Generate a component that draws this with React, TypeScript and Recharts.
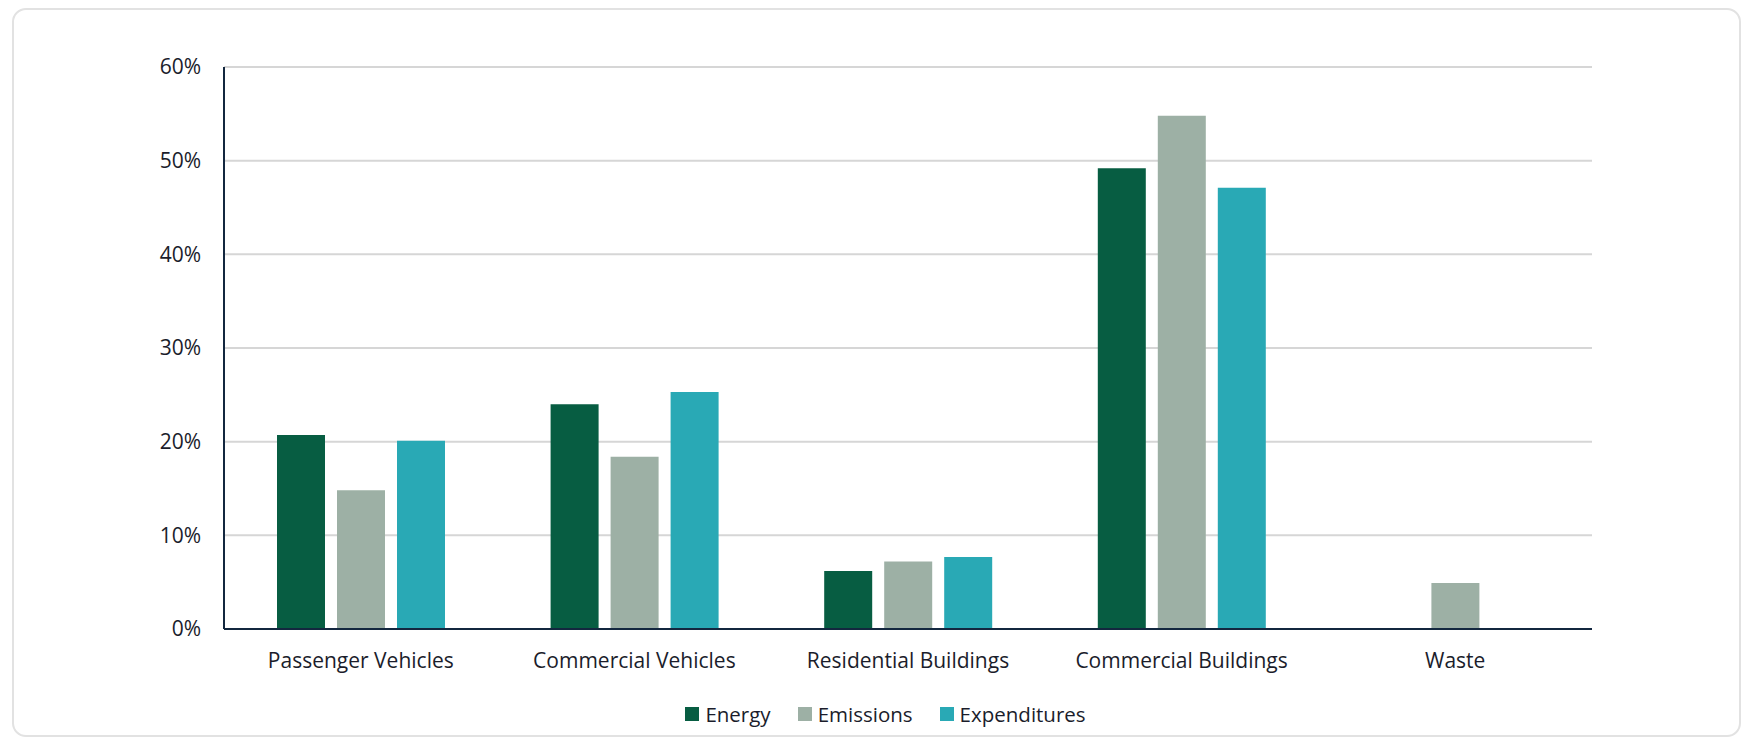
import { BarChart, Bar, XAxis, YAxis, CartesianGrid } from "recharts";

const categories = [
  "Passenger Vehicles",
  "Commercial Vehicles",
  "Residential Buildings",
  "Commercial Buildings",
  "Waste",
];

const energy = [20.7, 24.0, 6.2, 49.2, 0];
const emissions = [14.8, 18.4, 7.2, 54.8, 4.9];
const expenditures = [20.1, 25.3, 7.7, 47.1, 0];

const yTicks = [0, 10, 20, 30, 40, 50, 60];

const series = [
  { key: "energy", name: "Energy", color: "#075d42" },
  { key: "emissions", name: "Emissions", color: "#9db0a5" },
  { key: "expenditures", name: "Expenditures", color: "#29a9b5" },
];

const data = categories.map((name, i) => ({
  name,
  energy: energy[i],
  emissions: emissions[i],
  expenditures: expenditures[i],
}));

const FONT = "'Open Sans', sans-serif";
const TEXT = "#1b1d2b";

function ChartLegend() {
  return (
    <div
      style={{
        position: "absolute",
        top: 700,
        left: 0,
        width: 1771,
        display: "flex",
        justifyContent: "center",
        fontFamily: FONT,
        fontSize: 20.5,
        color: TEXT,
      }}
    >
      {series.map((s, i) => (
        <div
          key={s.key}
          style={{
            display: "flex",
            alignItems: "center",
            marginLeft: i === 0 ? 0 : 27,
          }}
        >
          <span
            style={{
              width: 14,
              height: 14,
              background: s.color,
              display: "inline-block",
              marginRight: 6,
            }}
          />
          <span>{s.name}</span>
        </div>
      ))}
    </div>
  );
}

export default function App() {
  return (
    <div
      style={{
        position: "absolute",
        left: 0,
        top: 0,
        width: 1745,
        height: 741,
        background: "#ffffff",
      }}
    >
      <div
        style={{
          position: "absolute",
          left: 12,
          top: 8,
          width: 1729,
          height: 729,
          border: "2px solid #e2e2e2",
          borderRadius: 14,
          boxSizing: "border-box",
        }}
      />
      <div style={{ position: "absolute", left: 0, top: 0 }}>
        <BarChart
          width={1745}
          height={741}
          data={data}
          margin={{ top: 67, right: 153, left: 144, bottom: 72 }}
          barSize={48}
          barGap={12}
        >
          <CartesianGrid
            vertical={false}
            stroke="#d6d6d6"
            strokeWidth={2}
          />
          <XAxis
            dataKey="name"
            height={40}
            tickLine={false}
            tickMargin={18}
            axisLine={{ stroke: "#13273f", strokeWidth: 2 }}
            tick={{ fill: TEXT, fontSize: 21, fontFamily: FONT }}
            interval={0}
          />
          <YAxis
            width={80}
            domain={[0, 60]}
            ticks={yTicks}
            tickFormatter={(v) => `${v}%`}
            tickLine={false}
            tickMargin={17}
            axisLine={{ stroke: "#13273f", strokeWidth: 2 }}
            tick={{ fill: TEXT, fontSize: 21, fontFamily: FONT }}
          />
          {series.map((s) => (
            <Bar
              key={s.key}
              dataKey={s.key}
              name={s.name}
              fill={s.color}
              isAnimationActive={false}
            />
          ))}
        </BarChart>
      </div>
      <ChartLegend />
    </div>
  );
}
